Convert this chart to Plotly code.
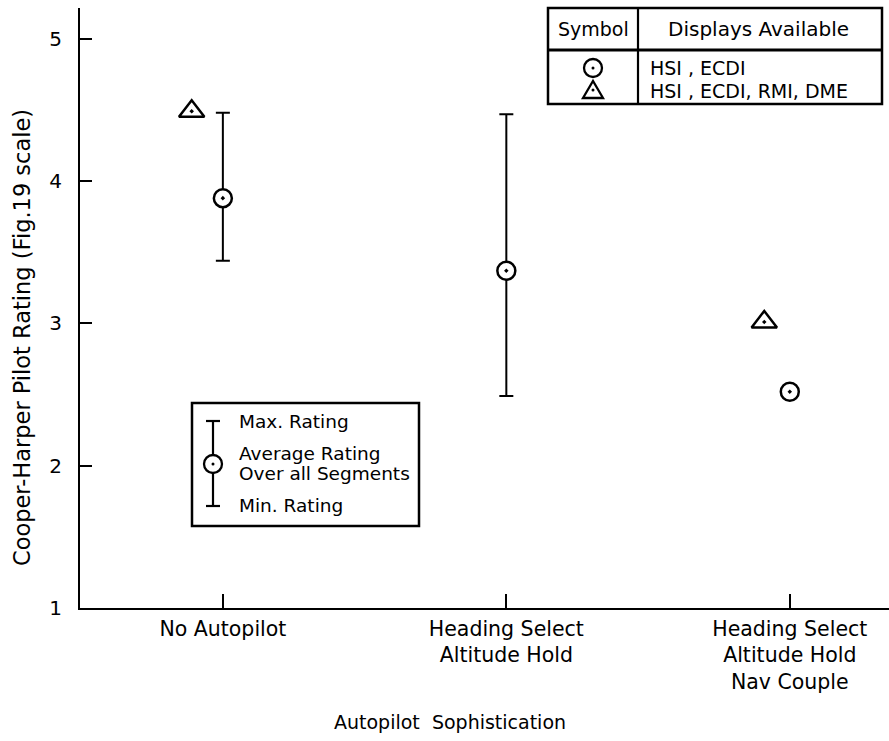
import plotly.graph_objects as go

# ---------------- data ----------------
categories = ["No Autopilot",
              "Heading Select<br>Altitude Hold",
              "Heading Select<br>Altitude Hold<br>Nav Couple"]
cat_pos = [1, 2, 3]
avg_rating = [3.88, 3.37, 2.52]          # circles: HSI, ECDI
max_rating = [4.48, 4.47, None]
min_rating = [3.44, 2.49, None]
tri_pos = [0.89, 2.91]                    # triangles: HSI, ECDI, RMI, DME
tri_rating = [4.49, 3.01]
y_ticks = [1, 2, 3, 4, 5]

# ---------------- geometry ----------------
W, H = 889, 741
L, R, T, B = 80, 0, 8, 133
PW, PH = W - L - R, H - T - B
FONT = "DejaVu Sans"


def px(x):
    return (x - L) / PW


def py(y):
    return (H - B - y) / PH


err_plus = [(m - a) if m is not None else None for m, a in zip(max_rating, avg_rating)]
err_minus = [(a - m) if m is not None else None for m, a in zip(min_rating, avg_rating)]

fig = go.Figure()
fig.add_trace(go.Scatter(
    x=cat_pos, y=avg_rating, mode="markers", showlegend=False,
    marker=dict(symbol="circle-dot", size=18, color="white",
                line=dict(color="black", width=2.5)),
    error_y=dict(type="data", symmetric=False, array=err_plus, arrayminus=err_minus,
                 color="black", thickness=2, width=7),
))
fig.add_trace(go.Scatter(
    x=tri_pos, y=tri_rating, mode="markers", showlegend=False,
    marker=dict(symbol="triangle-up-dot", size=22, color="white",
                line=dict(color="black", width=2.5)),
))

shapes = []
annotations = []


def line(x0, y0, x1, y1, w=2.2):
    shapes.append(dict(type="line", xref="paper", yref="paper",
                       x0=px(x0), y0=py(y0), x1=px(x1), y1=py(y1),
                       line=dict(color="black", width=w)))


def rect(x0, y0, x1, y1, w=2.5):
    shapes.append(dict(type="rect", xref="paper", yref="paper",
                       x0=px(x0), y0=py(y0), x1=px(x1), y1=py(y1),
                       line=dict(color="black", width=w), fillcolor="white"))


def dot(cx, cy, r=1.5):
    shapes.append(dict(type="circle", xref="paper", yref="paper",
                       xsizemode="pixel", ysizemode="pixel",
                       xanchor=px(cx), yanchor=py(cy),
                       x0=-r, x1=r, y0=-r, y1=r,
                       line=dict(color="black", width=0), fillcolor="black"))


def circle_sym(cx, cy, r=9):
    shapes.append(dict(type="circle", xref="paper", yref="paper",
                       xsizemode="pixel", ysizemode="pixel",
                       xanchor=px(cx), yanchor=py(cy),
                       x0=-r, x1=r, y0=-r, y1=r,
                       line=dict(color="black", width=2.3), fillcolor="white"))
    dot(cx, cy)


def tri_sym(cx, cy):
    shapes.append(dict(type="path", xref="paper", yref="paper",
                       xsizemode="pixel", ysizemode="pixel",
                       xanchor=px(cx), yanchor=py(cy),
                       path="M -10,-7 L 10,-7 L 0,10 Z",
                       line=dict(color="black", width=2.3), fillcolor="white"))
    dot(cx, cy - 1)


def text(x, y, s, size=19, xanchor="center", angle=0):
    annotations.append(dict(xref="paper", yref="paper", x=px(x), y=py(y), text=s,
                            showarrow=False, xanchor=xanchor, yanchor="middle",
                            align=xanchor if xanchor != "center" else "center",
                            textangle=angle,
                            font=dict(family=FONT, size=size, color="black")))


# ---- table (top right) ----
rect(548, 8, 882, 104)
line(638, 8, 638, 104)
line(548, 50, 882, 50, w=3)
text(593, 29, "Symbol", size=19)
text(758, 29, "Displays Available", size=20)
circle_sym(593, 68)
tri_sym(593, 91)
text(648, 68, "HSI , ECDI", size=19, xanchor="left")
text(648, 91, "HSI , ECDI, RMI, DME", size=19, xanchor="left")

# ---- key box (lower left) ----
rect(192, 403, 419, 526)
line(213, 421, 213, 506, w=2.2)
line(206, 421, 220, 421, w=2.2)
line(206, 506, 220, 506, w=2.2)
circle_sym(213, 464)
text(237, 422, "Max. Rating", size=18.5, xanchor="left")
text(237, 453, "Average Rating", size=18.5, xanchor="left")
text(237, 474, "Over all Segments", size=18.5, xanchor="left")
text(237, 505, "Min. Rating", size=18.5, xanchor="left")

# ---- axis titles ----
text(450, 722, "Autopilot  Sophistication", size=19)
text(22, 338, "Cooper-Harper Pilot Rating (Fig.19 scale)", size=22.5, angle=-90)

fig.update_layout(
    width=W, height=H,
    margin=dict(l=L, r=R, t=T, b=B, pad=0),
    paper_bgcolor="white", plot_bgcolor="white",
    font=dict(family=FONT, size=20, color="black"),
    shapes=shapes, annotations=annotations,
    xaxis=dict(range=[0.496, 3.35], tickvals=cat_pos, ticktext=categories,
               ticks="inside", ticklen=14, tickwidth=2, tickcolor="black",
               showline=True, linewidth=2.2, linecolor="black",
               showgrid=False, zeroline=False, ticklabelstandoff=1,
               tickfont=dict(family=FONT, size=20.5)),
    yaxis=dict(range=[1, 5.216], tickvals=y_ticks,
               ticks="inside", ticklen=12, tickwidth=2, tickcolor="black",
               showline=True, linewidth=2.2, linecolor="black",
               showgrid=False, zeroline=False, ticklabelstandoff=12,
               tickfont=dict(family=FONT, size=20)),
)

fig.write_html("out.html")
